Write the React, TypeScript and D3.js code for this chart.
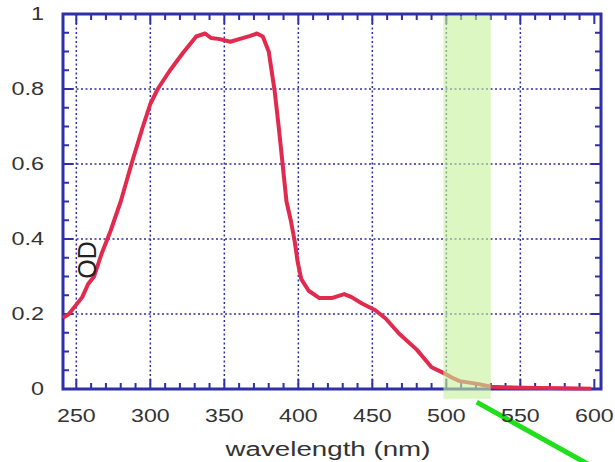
import React, { useEffect, useRef } from "react";
import * as d3 from "d3";

// absorbance spectrum
const wavelengths = [241, 245, 250, 254, 258, 262, 267, 273, 280, 288, 295, 300, 305, 313, 322, 331, 337, 341, 347, 354, 360, 367, 372, 376, 380, 384, 387, 392, 395, 397.5, 399.5, 402, 407, 414, 423, 431, 436, 443, 452, 459, 468, 480, 490, 498, 504, 509, 522, 530, 545, 560, 580, 598];
const odValues = [0.19, 0.2, 0.225, 0.245, 0.28, 0.3, 0.36, 0.42, 0.5, 0.61, 0.7, 0.76, 0.8, 0.848, 0.896, 0.94, 0.948, 0.936, 0.933, 0.926, 0.933, 0.941, 0.948, 0.94, 0.9, 0.795, 0.69, 0.5, 0.448, 0.395, 0.34, 0.293, 0.262, 0.243, 0.243, 0.253, 0.245, 0.228, 0.21, 0.188, 0.148, 0.105, 0.058, 0.043, 0.03, 0.021, 0.013, 0.006, 0.004, 0.003, 0.002, 0.001];

const xTicks = [250, 300, 350, 400, 450, 500, 550, 600];
const yTicks = [0, 0.2, 0.4, 0.6, 0.8, 1];
const yTickLabels = ["0", "0.2", "0.4", "0.6", "0.8", "1"];
const band = [498, 530];
const pointerLine = [
  { nm: 520.5, od: -0.035 },
  { nm: 616, od: -0.245 },
];

const W = 615;
const H = 462;
const margin = { left: 63, top: 14, right: 14, bottom: 73 };

export default function App() {
  const ref = useRef<SVGSVGElement>(null);

  useEffect(() => {
    const svg = d3.select(ref.current);
    svg.selectAll("*").remove();

    const x = d3.scaleLinear().domain([241, 604.5]).range([margin.left, W - margin.right]);
    const y = d3.scaleLinear().domain([0, 1]).range([H - margin.bottom, margin.top]);

    const blue = "#2f2fa8";
    const x0 = margin.left, x1 = W - margin.right;
    const y0 = H - margin.bottom, y1 = margin.top;

    svg.append("rect").attr("width", W).attr("height", H).style("fill", "#fff");

    // dotted grid
    svg.selectAll(".gx")
      .data(xTicks.filter(d => d < 600))
      .enter()
      .append("line")
        .attr("x1", d => x(d)).attr("x2", d => x(d))
        .attr("y1", y1).attr("y2", y0)
        .style("stroke", blue).style("stroke-width", 1.5)
        .style("stroke-dasharray", "2,2.5");

    svg.selectAll(".gy")
      .data(yTicks.filter(d => d > 0 && d < 1))
      .enter()
      .append("line")
        .attr("x1", x0).attr("x2", x1)
        .attr("y1", d => y(d)).attr("y2", d => y(d))
        .style("stroke", blue).style("stroke-width", 1.5)
        .style("stroke-dasharray", "2,2.5");

    // inner ticks on all four sides
    const minorX = d3.range(250, 601, 10);
    const minorY = d3.range(0, 1.001, 0.05);
    const tickG = svg.append("g").style("stroke", blue).style("stroke-width", 2);
    minorX.forEach(v => {
      const len = v % 50 === 0 ? 10 : 6;
      tickG.append("line").attr("x1", x(v)).attr("x2", x(v)).attr("y1", y0).attr("y2", y0 - len);
      tickG.append("line").attr("x1", x(v)).attr("x2", x(v)).attr("y1", y1).attr("y2", y1 + len);
    });
    minorY.forEach(v => {
      const major = Math.abs(v * 5 - Math.round(v * 5)) < 1e-6;
      const len = major ? 10 : 6;
      tickG.append("line").attr("x1", x0).attr("x2", x0 + len).attr("y1", y(v)).attr("y2", y(v));
      tickG.append("line").attr("x1", x1).attr("x2", x1 - len).attr("y1", y(v)).attr("y2", y(v));
    });

    // frame
    svg.append("rect")
      .attr("x", x0).attr("y", y1)
      .attr("width", x1 - x0).attr("height", y0 - y1)
      .style("fill", "none").style("stroke", blue).style("stroke-width", 3);

    // spectrum
    const line = d3.line<number>()
      .x((d, i) => x(wavelengths[i]))
      .y(d => y(d))
      .curve(d3.curveLinear);

    svg.append("path")
      .datum(odValues)
      .attr("d", line)
      .style("fill", "none")
      .style("stroke", "#e02a4e")
      .style("stroke-width", 4)
      .style("stroke-linejoin", "round");

    // green band
    svg.append("rect")
      .attr("x", x(band[0]))
      .attr("y", y(0.995))
      .attr("width", x(band[1]) - x(band[0]))
      .attr("height", y(-0.026) - y(0.995))
      .style("fill", "#c6f29a")
      .style("opacity", 0.6);

    // pointer line
    svg.append("line")
      .attr("x1", x(pointerLine[0].nm)).attr("y1", y(pointerLine[0].od))
      .attr("x2", x(pointerLine[1].nm)).attr("y2", y(pointerLine[1].od))
      .style("stroke", "#1fe01a").style("stroke-width", 5);

    const font = "'Liberation Sans', Arial, sans-serif";

    // y labels
    svg.selectAll(".yl")
      .data(yTicks)
      .enter()
      .append("text")
        .attr("transform", d => `translate(44,${y(d) + 6}) scale(1.3,1)`)
        .attr("text-anchor", "end")
        .style("font-family", font)
        .style("font-size", "18px")
        .style("fill", "#333")
        .text((d, i) => yTickLabels[i]);

    // x labels
    svg.selectAll(".xl")
      .data(xTicks)
      .enter()
      .append("text")
        .attr("transform", d => `translate(${x(d)},422) scale(1.22,1)`)
        .attr("text-anchor", "middle")
        .style("font-family", font)
        .style("font-size", "19px")
        .style("fill", "#333")
        .text(d => d);

    svg.append("text")
      .attr("transform", `translate(328,456) scale(1.32,1)`)
      .attr("text-anchor", "middle")
      .style("font-family", font)
      .style("font-size", "21px")
      .style("fill", "#333")
      .text("wavelength (nm)");

    svg.append("text")
      .attr("transform", `translate(96,260) rotate(-90)`)
      .attr("text-anchor", "middle")
      .style("font-family", font)
      .style("font-size", "25px")
      .style("font-weight", 300)
      .style("fill", "#222")
      .text("OD");
  }, []);

  return (
    <svg ref={ref} width={W} height={H} style={{ position: "absolute", left: 0, top: 0 }}></svg>
  );
}
